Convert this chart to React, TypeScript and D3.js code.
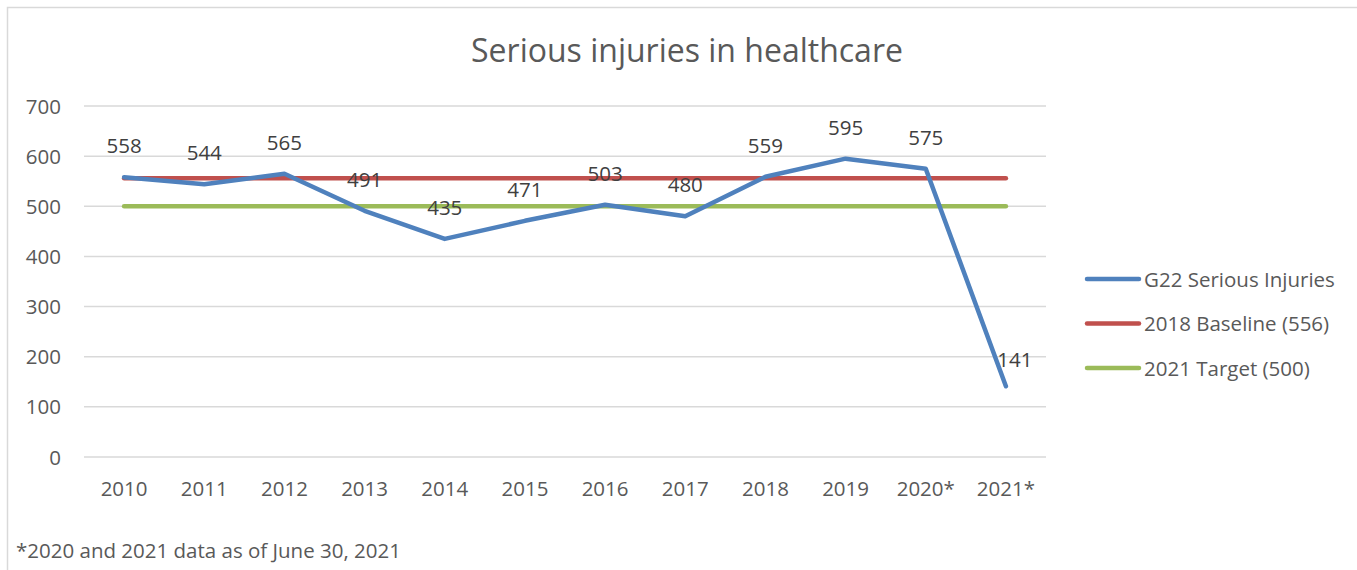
import React from "react";
import * as d3 from "d3";

const categories = ["2010","2011","2012","2013","2014","2015","2016","2017","2018","2019","2020*","2021*"];
const injuries = [558,544,565,491,435,471,503,480,559,595,575,141];
const baseline = categories.map(() => 556);
const target = categories.map(() => 500);
const yTicks = [0,100,200,300,400,500,600,700];
const seriesNames = ["G22 Serious Injuries","2018 Baseline (556)","2021 Target (500)"];
const colors = ["#4f81bd","#c0504d","#9bbb59"];

const W = 1357, H = 570;
const FONT = "'Open Sans', 'Liberation Sans', sans-serif";
const FS = 20.5;

export default function App() {
  const x = d3.scaleBand().domain(categories).range([84, 1046]);
  const y = d3.scaleLinear().domain([0, 700]).range([457, 106]);
  const cx = (c: string) => (x(c) as number) + x.bandwidth() / 2;
  const line = d3.line<number>().x((_, i) => cx(categories[i])).y((d) => y(d));
  const series = [injuries, baseline, target];
  return (
    <svg width={W} height={H} style={{ position: "absolute", left: 0, top: 0, background: "#fff" }}>
      <rect x={7.5} y={7.5} width={W + 10} height={H + 10} fill="#fff" stroke="#d9d9d9" strokeWidth={1.5} />
      <text x={687} y={62} textAnchor="middle" fontFamily={FONT} fontSize={32} fill="#595959">Serious injuries in healthcare</text>
      {yTicks.map((t) => (
        <g key={t}>
          <line x1={84} x2={1046} y1={y(t)} y2={y(t)} stroke="#d9d9d9" strokeWidth={1.5} />
          <text x={61} y={y(t) + 7.5} textAnchor="end" fontFamily={FONT} fontSize={FS} fill="#595959">{t}</text>
        </g>
      ))}
      {categories.map((c) => (
        <text key={c} x={cx(c)} y={496} textAnchor="middle" fontFamily={FONT} fontSize={FS} fill="#595959">{c}</text>
      ))}
      {[2, 1, 0].map((k) => (
        <path key={k} d={line(series[k]) as string} fill="none" stroke={colors[k]} strokeWidth={4.5} strokeLinejoin="round" strokeLinecap="round" />
      ))}
      {injuries.map((v, i) => (
        <text key={i} x={cx(categories[i]) + (i === injuries.length - 1 ? 9 : 0)} y={y(v) - 24 + (i === injuries.length - 1 ? 5 : 0)} textAnchor="middle" fontFamily={FONT} fontSize={FS} fill="#404040">{v}</text>
      ))}
      {seriesNames.map((n, i) => (
        <g key={n}>
          <line x1={1087} x2={1139} y1={279 + i * 44.5} y2={279 + i * 44.5} stroke={colors[i]} strokeWidth={4.5} strokeLinecap="round" />
          <text x={1144} y={279 + i * 44.5 + 7.5} fontFamily={FONT} fontSize={FS} fill="#595959">{n}</text>
        </g>
      ))}
      <text x={16} y={558} fontFamily={FONT} fontSize={FS} fill="#595959">*2020 and 2021 data as of June 30, 2021</text>
    </svg>
  );
}
